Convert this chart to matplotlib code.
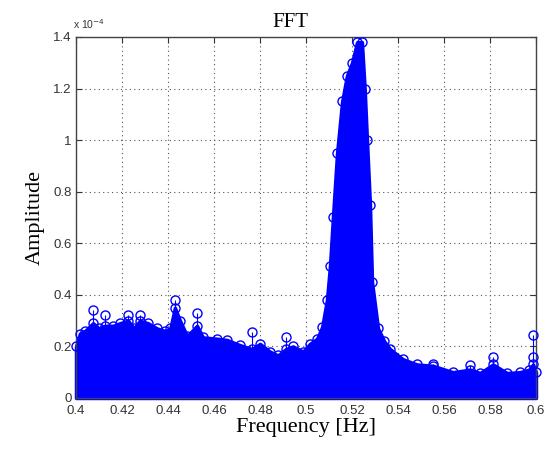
import matplotlib
matplotlib.use("Agg")
import matplotlib.pyplot as plt
import numpy as np
from matplotlib.ticker import FuncFormatter, MultipleLocator

# upper edge of the dense spectrum cloud (frequency in Hz, amplitude x1e-4)
freq_env = [
    0.4000, 0.4017, 0.4039, 0.4074, 0.4100, 0.4126, 0.4161, 0.4191, 0.4226,
    0.4252, 0.4278, 0.4313, 0.4352, 0.4387, 0.4410, 0.4430, 0.4452, 0.4483,
    0.4526, 0.4552, 0.4613, 0.4657, 0.4713, 0.4765, 0.4800, 0.4843, 0.4878,
    0.4913, 0.4943, 0.4987, 0.5017, 0.5048, 0.5070, 0.5091, 0.5104, 0.5117,
    0.5135, 0.5157, 0.5178, 0.5200, 0.5222, 0.5243, 0.5255, 0.5265, 0.5278,
    0.5287, 0.5313, 0.5340, 0.5365, 0.5422, 0.5483, 0.5552, 0.5639, 0.5713,
    0.5757, 0.5813, 0.5874, 0.5930, 0.5970, 0.5987, 0.6000,
]
amp_env = [
    0.20, 0.25, 0.26, 0.29, 0.27, 0.28, 0.28, 0.29, 0.30,
    0.27, 0.30, 0.29, 0.27, 0.26, 0.27, 0.35, 0.30, 0.24,
    0.28, 0.235, 0.23, 0.225, 0.205, 0.19, 0.21, 0.18, 0.165,
    0.19, 0.20, 0.18, 0.21, 0.23, 0.275, 0.38, 0.51, 0.70,
    0.95, 1.15, 1.25, 1.30, 1.38, 1.38, 1.20, 1.00, 0.75,
    0.45, 0.27, 0.22, 0.19, 0.15, 0.13, 0.125, 0.10, 0.11,
    0.097, 0.13, 0.097, 0.10, 0.11, 0.13, 0.10,
]

# isolated bins standing above the cloud
freq_spike = [0.4074, 0.4126, 0.4226, 0.4278, 0.4430, 0.4526, 0.4765,
              0.4913, 0.5552, 0.5713, 0.5813, 0.5987, 0.5987]
amp_spike = [0.34, 0.32, 0.32, 0.32, 0.38, 0.33, 0.256,
             0.235, 0.13, 0.128, 0.16, 0.244, 0.16]

SCALE = 1e-4
BLUE = "#0000ff"

f_env = np.array(freq_env)
a_env = np.array(amp_env) * SCALE
f_sp = np.array(freq_spike)
a_sp = np.array(amp_spike) * SCALE

fig = plt.figure(figsize=(5.46, 4.49), dpi=100)
ax = fig.add_axes([0.1392, 0.1136, 0.8425, 0.8040])

ax.fill_between(f_env, 0, a_env, color=BLUE, edgecolor=BLUE,
                linewidth=2.5, clip_on=False, zorder=2)
ax.vlines(f_sp, 0, a_sp, color=BLUE, linewidth=0.8, zorder=2)
ax.plot(f_env, a_env, "o", color=BLUE, mfc="none", ms=6.5, mew=1.0,
        clip_on=False, zorder=3)
ax.plot(f_sp, a_sp, "o", color=BLUE, mfc="none", ms=6.5, mew=1.0,
        clip_on=False, zorder=3)

ax.set_xlim(0.4, 0.6)
ax.set_ylim(0, 1.4e-4)
ax.xaxis.set_major_locator(MultipleLocator(0.02))
ax.yaxis.set_major_locator(MultipleLocator(0.2e-4))
ax.xaxis.set_major_formatter(FuncFormatter(lambda v, p: f"{v:g}"))
ax.yaxis.set_major_formatter(
    FuncFormatter(lambda v, p: f"{round(v / SCALE, 2):g}"))

for lab in ax.get_xticklabels() + ax.get_yticklabels():
    lab.set_fontfamily("Liberation Sans")
    lab.set_fontsize(9.5)
    lab.set_color("#333333")

ax.tick_params(direction="in", top=True, right=True, length=4,
               width=0.8, color="#333333", pad=3)
ax.tick_params(axis="x", pad=5)
ax.grid(True, linestyle=(0, (1, 3)), color="#555555", linewidth=0.8)
for side in ax.spines.values():
    side.set_color("#444444")
    side.set_linewidth(1.0)

serif = "Liberation Serif"
ax.set_title("FFT", fontfamily=serif, fontsize=15, x=0.465, pad=7)
ax.set_xlabel("Frequency [Hz]", fontfamily=serif, fontsize=16, labelpad=1)
ax.set_ylabel("Amplitude", fontfamily=serif, fontsize=16, labelpad=6)
fig.text(0.134, 0.935, r"x 10$^{-4}$", fontfamily="Liberation Sans",
         fontsize=7.5, color="#333333")

fig.savefig("out.png", dpi=100)
